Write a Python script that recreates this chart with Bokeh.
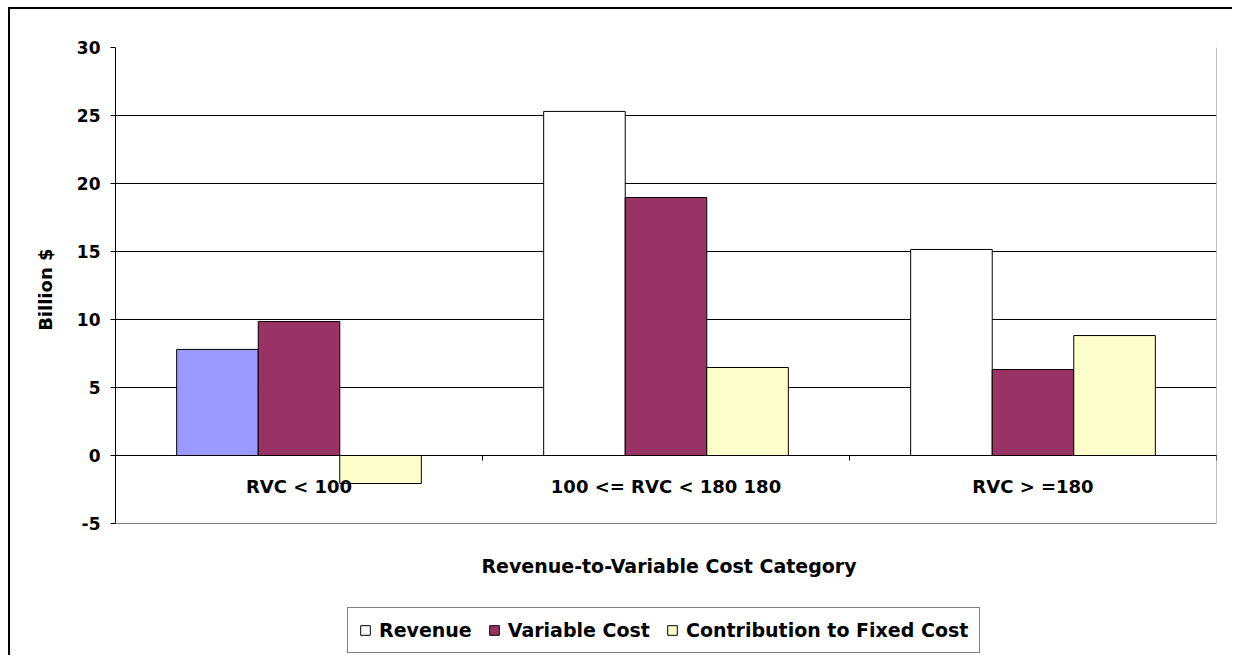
from bokeh.plotting import figure
from bokeh.models import (ColumnDataSource, FactorRange, FixedTicker, Legend,
                          LegendItem, Span, Title)
from bokeh.transform import dodge
from bokeh.core.properties import value
from bokeh.embed import file_html
from bokeh.resources import INLINE

# ---- data ----
categories = ["RVC < 100", "100 <= RVC < 180 180", "RVC > =180"]
revenue = [7.8, 25.3, 15.15]
variable_cost = [9.85, 18.97, 6.32]
contribution = [-2.06, 6.47, 8.82]
revenue_colors = ["#9999FF", "#FFFFFF", "#FFFFFF"]
series_names = ["Revenue", "Variable Cost", "Contribution to Fixed Cost"]
y_ticks = [-5, 0, 5, 10, 15, 20, 25, 30]
x_title = "Revenue-to-Variable Cost Category"
y_title = "Billion $"

FONT = "DejaVu Sans"
BAR_W = 1 / 4.5

# layout (pixels)
W, H = 1224, 648
TOP_BORDER = 38
GRID_PX = 476            # pixel height from top tick to bottom tick
FRAME_PX = (9 + H) - 47  # frame extends down to bottom of canvas
px_per_unit = GRID_PX / (y_ticks[-1] - y_ticks[0])
y_start = y_ticks[-1] - FRAME_PX / px_per_unit

source = ColumnDataSource(dict(cat=categories, rev=revenue, vc=variable_cost,
                               con=contribution, rev_color=revenue_colors))

p = figure(x_range=FactorRange(*categories), y_range=(y_start, y_ticks[-1]),
           width=W, height=H, output_backend="svg", toolbar_location=None,
           min_border_left=105, min_border_right=18, min_border_top=TOP_BORDER,
           min_border_bottom=0)
p.styles = {"border-left": "2px solid black", "border-top": "2px solid black",
            "margin-left": "8px", "margin-top": "7px"}
p.background_fill_color = "white"
p.border_fill_color = "white"
p.outline_line_color = None

r1 = p.vbar(x=dodge("cat", -BAR_W, range=p.x_range), top="rev", bottom=0,
            width=BAR_W, source=source, fill_color="rev_color",
            line_color="black", line_width=1)
r2 = p.vbar(x=dodge("cat", 0, range=p.x_range), top="vc", bottom=0,
            width=BAR_W, source=source, fill_color="#993366",
            line_color="black", line_width=1)
r3 = p.vbar(x=dodge("cat", BAR_W, range=p.x_range), top="con", bottom=0,
            width=BAR_W, source=source, fill_color="#FFFFCC",
            line_color="black", line_width=1)

n = len(categories)
# plot-area border (right and bottom, grey)
p.segment(x0=[n, 0], y0=[y_ticks[0], y_ticks[0]], x1=[n, n],
          y1=[y_ticks[-1], y_ticks[0]], line_color="#808080", line_width=1)

# category axis at zero
p.add_layout(Span(location=0, dimension="width", line_color="black", line_width=1))
bounds = list(range(n + 1))
p.segment(x0=bounds, y0=[0] * len(bounds), x1=bounds,
          y1=[-5 / px_per_unit] * len(bounds), line_color="black", line_width=1)
p.text(x="cat", y=0, text="cat", source=source, text_align="center",
       text_baseline="middle", y_offset=31, text_font=value(FONT),
       text_font_style="bold", text_font_size="18px", text_color="black")
# x axis title
p.text(x=[categories[1]], y=[y_ticks[0]], text=[x_title], text_align="center",
       text_baseline="middle", y_offset=42, x_offset=3, text_font=value(FONT),
       text_font_style="bold", text_font_size="19px", text_color="black")

# y axis
p.yaxis.ticker = FixedTicker(ticks=y_ticks)
p.yaxis.bounds = (y_ticks[0], y_ticks[-1])
p.yaxis.major_label_overrides = {t: str(t) for t in y_ticks}
p.yaxis.major_label_text_font = FONT
p.yaxis.major_label_text_font_style = "bold"
p.yaxis.major_label_text_font_size = "17px"
p.yaxis.major_label_text_color = "black"
p.yaxis.major_label_standoff = 10
p.yaxis.major_tick_out = 5
p.yaxis.major_tick_in = 0
p.yaxis.minor_tick_line_color = None
p.yaxis.axis_line_color = "black"
p.yaxis.major_tick_line_color = "black"

p.add_layout(Title(text=y_title, align="right", offset=201, standoff=34,
                   vertical_align="middle", text_font=FONT,
                   text_font_style="bold", text_font_size="18px",
                   text_color="black"), "left")

p.ygrid.ticker = FixedTicker(ticks=y_ticks[1:])
p.ygrid.grid_line_color = "black"
p.ygrid.grid_line_width = 1
p.xgrid.grid_line_color = None
p.xaxis.visible = False

legend = Legend(items=[
    LegendItem(label=series_names[0], renderers=[r1], index=1),
    LegendItem(label=series_names[1], renderers=[r2]),
    LegendItem(label=series_names[2], renderers=[r3]),
], orientation="horizontal", location=(232, 4), glyph_width=12,
    glyph_height=12, label_standoff=8, spacing=16, padding=11, margin=0,
    label_height=22, border_line_color="black", border_line_width=1,
    label_text_font=FONT, label_text_font_style="bold",
    label_text_font_size="19px", label_text_color="black",
    background_fill_color="white", background_fill_alpha=1)
p.add_layout(legend)

open("out.html", "w").write(file_html(p, INLINE))
